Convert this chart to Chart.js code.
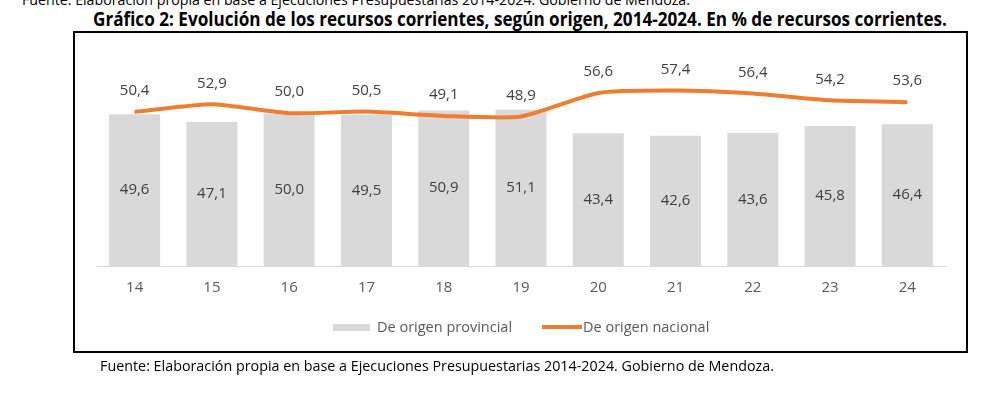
<!DOCTYPE html>
<html>
<head>
<meta charset="utf-8">
<script src="https://cdn.jsdelivr.net/npm/chart.js@4.4.1/dist/chart.umd.min.js"></script>
<style>
    html, body { margin: 0; padding: 0; background: #fff; }
    body { width: 1000px; height: 396px; position: relative; overflow: hidden; font-family: "Open Sans", sans-serif; }
    .fit { position: absolute; white-space: nowrap; transform-origin: 0 0; color: #000; }
    #topNote { left: 22px; top: -7px; font-size: 14px; line-height: 14px; }
    #title { left: 93px; top: 10px; font-size: 19px; line-height: 19px; font-weight: bold; }
    #footNote { left: 100px; top: 359px; font-size: 14px; line-height: 14px; }
    #frame { position: absolute; left: 73px; top: 31px; width: 891px; height: 318px; border: 2px solid #000; }
    #chartWrap { position: absolute; left: 0; top: 0; width: 1000px; height: 396px; }
    #chart { display: block; }
    .legend { position: absolute; top: 318px; height: 18px; font-size: 14.5px; line-height: 18px; color: #595959; white-space: nowrap; }
    .legend span.sw { position: absolute; top: 50%; }
    .legend span.tx { position: absolute; top: 0; }
</style>
</head>
<body>
<div id="topNote" class="fit">Fuente: Elaboración propia en base a Ejecuciones Presupuestarias 2014-2024. Gobierno de Mendoza.</div>
<div id="title" class="fit">Gráfico 2: Evolución de los recursos corrientes, según origen, 2014-2024. En % de recursos corrientes.</div>
<div id="frame"></div>
<div id="chartWrap"><canvas id="chart" width="1000" height="396"></canvas></div>
<div id="legend"></div>
<div id="footNote" class="fit">Fuente: Elaboración propia en base a Ejecuciones Presupuestarias 2014-2024. Gobierno de Mendoza.</div>

<script>
    'use strict';

    var years = ['14', '15', '16', '17', '18', '19', '20', '21', '22', '23', '24'];
    var provincial = [49.6, 47.1, 50.0, 49.5, 50.9, 51.1, 43.4, 42.6, 43.6, 45.8, 46.4];
    var nacional = [50.4, 52.9, 50.0, 50.5, 49.1, 48.9, 56.6, 57.4, 56.4, 54.2, 53.6];
    var seriesNames = ['De origen provincial', 'De origen nacional'];

    var grayBar = '#D9D9D9';
    var orangeLine = '#ED7D31';

    // squeeze the html texts to the widths seen in the picture
    var fitText = function (id, width) {
        var el = document.getElementById(id);
        var w = el.getBoundingClientRect().width;
        el.style.transform = 'scaleX(' + (width / w) + ')';
    };
    fitText('topNote', 668);
    fitText('title', 854);
    fitText('footNote', 674);

    // value labels: centred in the bars, above the line points
    var valueLabels = {
        id: 'valueLabels',
        afterDatasetsDraw: function (chart) {
            var ctx = chart.ctx;
            ctx.save();
            ctx.font = '15px "Open Sans"';
            ctx.fillStyle = '#404040';
            ctx.textAlign = 'center';
            ctx.textBaseline = 'middle';
            chart.data.datasets.forEach(function (ds, i) {
                var meta = chart.getDatasetMeta(i);
                meta.data.forEach(function (el, j) {
                    var txt = ds.data[j].toFixed(1).replace('.', ',');
                    var y = meta.type === 'bar' ? (el.y + el.base) / 2 : el.y - 21;
                    ctx.fillText(txt, el.x, y);
                });
            });
            ctx.restore();
        }
    };

    var ctx = document.getElementById('chart').getContext('2d');
    var myChart = new Chart(ctx, {
        data: {
            labels: years,
            datasets: [
                {
                    type: 'line',
                    label: seriesNames[1],
                    data: nacional,
                    borderColor: orangeLine,
                    backgroundColor: orangeLine,
                    borderWidth: 4,
                    pointRadius: 0,
                    tension: 0.2,
                    order: 0
                },
                {
                    type: 'bar',
                    label: seriesNames[0],
                    data: provincial,
                    backgroundColor: grayBar,
                    borderWidth: 0,
                    barPercentage: 0.66,
                    categoryPercentage: 1,
                    order: 1
                }
            ]
        },
        options: {
            responsive: false,
            animation: false,
            layout: { padding: { left: 96, right: 54, top: 52, bottom: 86 } },
            plugins: {
                legend: { display: false },
                tooltip: { enabled: false }
            },
            scales: {
                x: {
                    grid: { display: false, drawTicks: false },
                    border: { display: true, color: '#D9D9D9', width: 1 },
                    ticks: { color: '#595959', padding: 13, font: { family: 'Open Sans', size: 15 } }
                },
                y: {
                    display: false,
                    min: 0,
                    max: 70
                }
            }
        },
        plugins: [valueLabels]
    });

    // html legend, bar first then line
    var legendItems = [
        { text: seriesNames[0], swLeft: 333, swWidth: 37, swHeight: 7, color: grayBar, txLeft: 377 },
        { text: seriesNames[1], swLeft: 542, swWidth: 40, swHeight: 4, color: orangeLine, txLeft: 583 }
    ];
    var legendHtml = '';
    for (var i = 0; i < legendItems.length; i++) {
        var it = legendItems[i];
        legendHtml += '<div class="legend" style="left:0;width:1000px">' +
            '<span class="sw" style="left:' + it.swLeft + 'px;width:' + it.swWidth + 'px;height:' + it.swHeight +
            'px;margin-top:-' + (it.swHeight / 2) + 'px;background:' + it.color + '"></span>' +
            '<span class="tx" style="left:' + it.txLeft + 'px">' + it.text + '</span></div>';
    }
    document.getElementById('legend').innerHTML = legendHtml;
</script>
</body>
</html>
